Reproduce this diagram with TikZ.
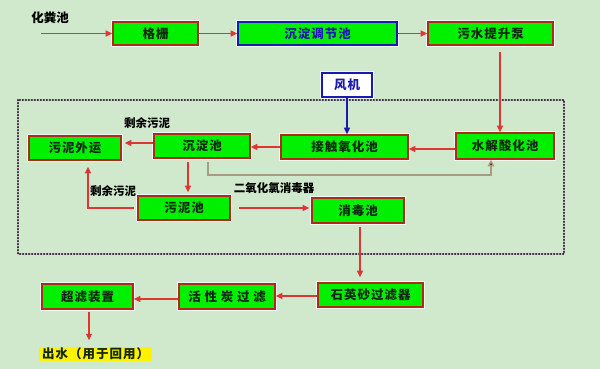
\documentclass[tikz,border=0pt]{standalone}
\usepackage{fontspec}
\newfontfamily\cjk{Noto Sans CJK SC}
\newfontfamily\cjksp[LetterSpace=8]{Noto Sans CJK SC}
\newfontfamily\cjkwide[LetterSpace=30]{Noto Sans CJK SC}
\usetikzlibrary{arrows.meta}
\definecolor{bg}{HTML}{D0E8CC}
\definecolor{boxgreen}{HTML}{00F000}
\definecolor{boxborder}{HTML}{B02A1A}
\definecolor{halo}{HTML}{EEF8F4}
\definecolor{ln}{HTML}{E03535}
\definecolor{bluel}{HTML}{1A1AB0}
\definecolor{tan}{HTML}{A89C84}
\definecolor{tanhead}{HTML}{8A1A10}
\definecolor{dots}{HTML}{3A2040}
\definecolor{txt}{HTML}{102810}
\tikzset{
  box/.style={draw=boxborder, line width=1.6pt, fill=boxgreen, inner sep=0pt,
    minimum height=24pt, text=txt, font=\cjksp\bfseries\fontsize{12.5}{14}\selectfont,
    preaction={draw=halo, line width=4pt}},
  lbl/.style={inner sep=0pt, text=black, font=\cjk\bfseries\fontsize{11.5}{13}\selectfont},
  arr/.style={draw=ln, line width=1.3pt, -{Triangle[length=6.5pt,width=6pt]}},
}
\begin{document}
\begin{tikzpicture}[x=1pt,y=-1pt]
\fill[bg] (0,0) rectangle (600,369);
\useasboundingbox (0,0) rectangle (600,369);
% dotted frame
\draw[dots, line width=2.2pt, line cap=round, dash pattern=on 0.4pt off 2.6pt] (18,100) rectangle (564,254);
% nodes
\node[box, minimum width=85pt, minimum height=23pt] (gs) at (155.5,33.5) {格栅};
\node[box, draw=bluel, text=bluel, minimum width=159pt, minimum height=23pt] (tj) at (317.5,33.5) {沉淀调节池};
\node[box, minimum width=125pt, minimum height=23pt] (bp) at (490.5,33.5) {污水提升泵};
\node[box, draw=bluel, fill=white, text=bluel, minimum width=50pt] (fj) at (347,85) {风机};
\node[box, minimum width=127pt] (jc) at (344.5,147) {接触氧化池};
\node[box, minimum width=98pt, minimum height=26pt] (sj) at (505,146) {水解酸化池};
\node[box, minimum width=96pt] (cd) at (202,146) {沉淀池};
\node[box, minimum width=92pt] (wy) at (75,148) {污泥外运};
\node[box, minimum width=92pt] (wn) at (184,208) {污泥池};
\node[box, minimum width=92pt, minimum height=25pt] (xd) at (358,210.5) {消毒池};
\node[box, minimum width=105pt] (sy) at (370.5,295) {石英砂过滤器};
\node[box, font=\cjkwide\bfseries\fontsize{12.5}{14}\selectfont, minimum width=96pt, minimum height=25pt] (hx) at (227,296.5) {活性炭过滤};
\node[box, minimum width=91pt, minimum height=25pt] (cl) at (87.5,296.5) {超滤装置};
\node[fill=yellow, inner sep=0pt, minimum width=113pt, minimum height=14pt, text=txt, font=\cjksp\bfseries\fontsize{12.5}{14}\selectfont] (out) at (95.5,353.5) {出水（用于回用）};
% labels
\node[lbl, font=\cjk\bfseries\fontsize{12.5}{14}\selectfont] (l1) at (50,17.5) {化粪池};
\node[lbl] (l2) at (147,123) {剩余污泥};
\node[lbl] (l3) at (113,191) {剩余污泥};
\node[lbl] (l4) at (274,188) {二氧化氯消毒器};
% connectors
\coordinate (src) at (41,33.5);
\draw[arr] (src) -- (gs.west);
\draw[arr] (gs) -- (tj);
\draw[arr] (tj) -- (bp);
\coordinate (bpo) at (500,52);
\draw[arr] (bpo) -- (bpo |- sj.north);
\draw[arr, draw=bluel] (fj.south) -- (fj.south |- jc.north);
\coordinate (sjw) at ([yshift=-3pt]sj.west);
\draw[arr] (sjw) -- (sjw -| jc.east);
\draw[arr] (jc.west) -- (jc.west -| cd.east);
\coordinate (cdw) at ([yshift=3pt]cd.west);
\draw[arr, shorten >=3pt] (cdw) -- (cdw -| wy.east);
\coordinate (cds) at (188,158);
\draw[arr, shorten <=4pt, shorten >=3pt] (cds) -- (cds |- wn.north);
\coordinate (wnc) at (88,208);
\draw[arr, shorten <=3pt, shorten >=6pt] (wn.west) -- (wnc) -- (wnc |- wy.south);
\coordinate (cdt) at (208,162);
\coordinate (tr) at (491,175);
\draw[draw=tan, line width=1.3pt, -{Triangle[length=6.5pt,width=6.5pt,fill=tanhead]}] (cdt) |- (tr) -- (tr |- sj.south);
\draw[arr, shorten <=8pt, shorten >=2pt] (wn.east) -- (wn.east -| xd.west);
\coordinate (xds) at (360,223);
\draw[arr, shorten <=4pt, shorten >=5pt] (xds) -- (xds |- sy.north);
\coordinate (syw) at ([yshift=-1pt]sy.west);
\draw[arr] (syw) -- (syw -| hx.east);
\coordinate (hxw) at ([yshift=-2.5pt]hx.west);
\draw[arr] (hxw) -- (hxw -| cl.east);
\coordinate (cls) at (89,309);
\draw[arr, shorten <=3pt, shorten >=6pt] (cls) -- (cls |- out.north);
\end{tikzpicture}
\end{document}
